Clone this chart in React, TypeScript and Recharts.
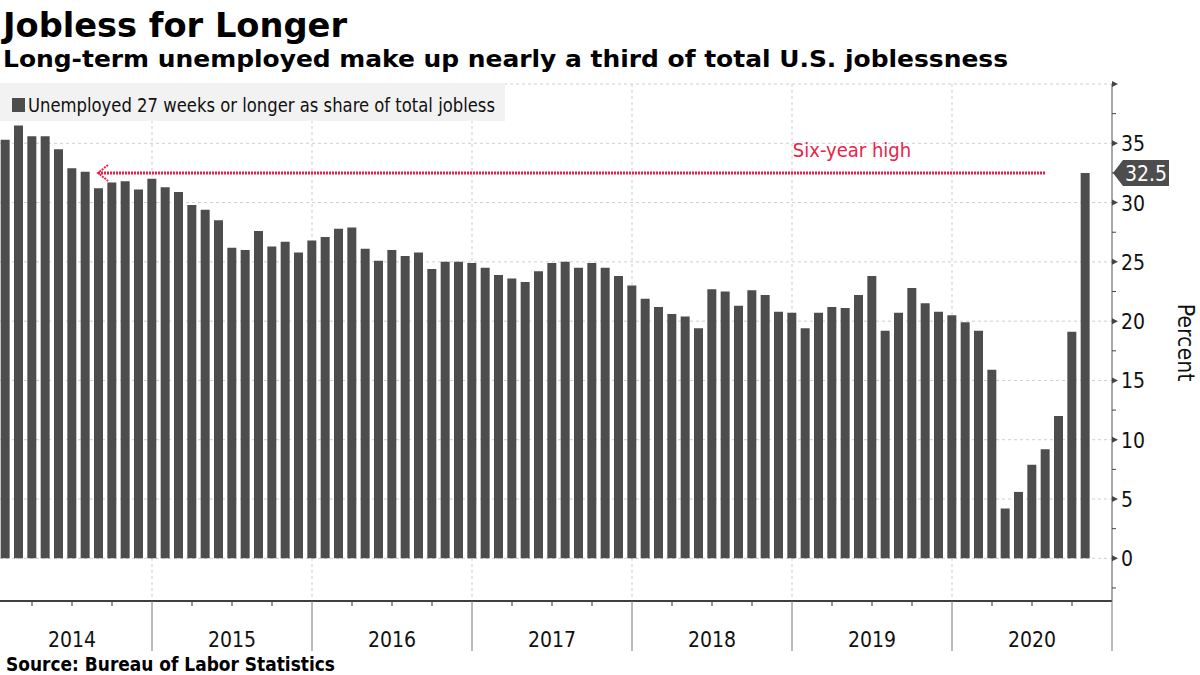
import {
  BarChart,
  Bar,
  XAxis,
  YAxis,
  CartesianGrid,
  ReferenceLine,
  ReferenceDot,
  Legend,
} from 'recharts';

// Share of unemployed out of work 27 weeks or longer, monthly, Jan 2014 - Oct 2020 (%)
const years = ['2014', '2015', '2016', '2017', '2018', '2019', '2020'];
const longTermShare = [
  35.3, 36.5, 35.6, 35.6, 34.5, 32.9, 32.6, 31.2, 31.7, 31.8, 31.1, 32.0,
  31.3, 30.9, 29.8, 29.4, 28.5, 26.2, 26.0, 27.6, 26.3, 26.7, 25.8, 26.8,
  27.1, 27.8, 27.9, 26.1, 25.1, 26.0, 25.5, 25.8, 24.4, 25.0, 25.0, 24.9,
  24.5, 23.9, 23.6, 23.3, 24.2, 24.9, 25.0, 24.5, 24.9, 24.5, 23.8, 23.0,
  21.9, 21.2, 20.6, 20.4, 19.4, 22.7, 22.5, 21.3, 22.6, 22.2, 20.8, 20.7,
  19.4, 20.7, 21.2, 21.1, 22.2, 23.8, 19.2, 20.7, 22.8, 21.5, 20.8, 20.5,
  19.9, 19.2, 15.9, 4.2, 5.6, 7.9, 9.2, 12.0, 19.1, 32.5,
];
// month index 0 = Jan 2014; ticks at quarter ends, long ones at December
const quarterTicks = [
  2, 5, 8, 11, 14, 17, 20, 23, 26, 29, 32, 35, 38, 41, 44, 47, 50, 53, 56, 59,
  62, 65, 68, 71, 74, 77, 80, 83,
];
const yearEnds = [11, 23, 35, 47, 59, 71];
const percentTicks = [
  -2.5, 0, 2.5, 5, 7.5, 10, 12.5, 15, 17.5, 20, 22.5, 25, 27.5, 30, 32.5, 35,
  37.5, 40,
];
const percentGrid = [0, 5, 10, 15, 20, 25, 30, 35, 40];
const highFrom = 6.95;
const highTo = 78;
const highLabelAt = 63.5;

const data = longTermShare.map((v, i) => ({ month: i, share: v }));
const latest = longTermShare[longTermShare.length - 1];

const FONT = "'DejaVu Sans Condensed', 'DejaVu Sans', sans-serif";
const BAR = '#4d4d4d';
const RED = '#e8234a';

function MonthTick({ x, y, payload }: any) {
  const m = payload.value;
  const major = m % 12 === 11;
  return (
    <g>
      <line x1={x} x2={x} y1={y} y2={y + (major ? 50 : 5)} stroke={major ? '#777' : '#333'} />
      {m % 12 === 5 && (
        <text x={x} y={y + 46} textAnchor="middle" fontSize={21} fill="#111" fontFamily={FONT} fontStretch="condensed">
          {years[Math.floor(m / 12)]}
        </text>
      )}
    </g>
  );
}

function PercentTick({ x, y, payload }: any) {
  const v = payload.value;
  const major = v % 5 === 0;
  return (
    <g>
      {major ? (
        <path d={`M${x},${y - 3}L${x + 6},${y}L${x},${y + 3}Z`} fill="#444" />
      ) : (
        <line x1={x} x2={x + 4} y1={y} y2={y} stroke="#444" />
      )}
      {major && v >= 0 && v <= 35 && (
        <text x={x + 9} y={y + 8} fontSize={21} fill="#111" fontFamily={FONT} fontStretch="condensed">
          {v}
        </text>
      )}
    </g>
  );
}

function PercentLabel({ viewBox }: any) {
  const cx = viewBox.x + 66;
  const cy = viewBox.y + viewBox.height / 2;
  return (
    <text
      x={cx}
      y={cy}
      transform={`rotate(90 ${cx} ${cy})`}
      textAnchor="middle"
      fontSize={23}
      fill="#111"
      fontFamily={FONT}
      fontStretch="condensed"
    >
      Percent
    </text>
  );
}

function SeriesLegend({ payload }: any) {
  const item = payload && payload[0];
  return (
    <svg width={530} height={44} style={{ display: 'block', overflow: 'visible' }}>
      <rect width={505} height={38} fill="#f2f2f2" />
      <rect x={12} y={15} width={13} height={14} fill={BAR} />
      <text x={28} y={29} fontSize={20} fill="#111" fontFamily={FONT} fontStretch="condensed" textLength={467} lengthAdjust="spacingAndGlyphs">
        {item ? item.value : ''}
      </text>
    </svg>
  );
}

function HighArrow(props: any) {
  const { x1, x2, y1 } = props;
  const left = Math.min(x1, x2);
  const right = Math.max(x1, x2);
  return (
    <g stroke={RED} fill="none" strokeDasharray="2 1">
      <line x1={left} x2={right} y1={y1} y2={y1} strokeWidth={3} />
      <polyline points={`${left + 10},${y1 - 8} ${left},${y1} ${left + 10},${y1 + 8}`} strokeWidth={2} />
    </g>
  );
}

function HighText({ cx, cy }: any) {
  return (
    <text x={cx} y={cy - 16} textAnchor="middle" fontSize={20} fill={RED} fontFamily={FONT} fontStretch="condensed">
      Six-year high
    </text>
  );
}

function ValueTag({ cx, cy }: any) {
  return (
    <g>
      <path
        d={`M${cx + 1},${cy}L${cx + 11},${cy - 13}L${cx + 57},${cy - 13}L${cx + 57},${cy + 13}L${cx + 11},${cy + 13}Z`}
        fill={BAR}
      />
      <text x={cx + 34} y={cy + 8} textAnchor="middle" fontSize={21} fill="#fff" fontFamily={FONT} fontStretch="condensed">
        {latest}
      </text>
    </g>
  );
}

export default function App() {
  return (
    <div style={{ position: 'fixed', left: 0, top: 0, width: 1200, height: 675, background: '#fff', overflow: 'hidden' }}>
      <BarChart
        width={1200}
        height={675}
        data={data}
        margin={{ top: 84, right: 0, left: 0, bottom: 0 }}
      >
        <CartesianGrid
          stroke="#cfcfcf"
          strokeDasharray="3 3"
          horizontalValues={percentGrid}
          verticalValues={yearEnds}
        />
        <XAxis
          dataKey="month"
          type="number"
          domain={[-0.4, 83]}
          allowDataOverflow
          ticks={quarterTicks}
          interval={0}
          height={74}
          tickSize={0}
          tickMargin={0}
          tick={<MonthTick />}
          axisLine={{ stroke: '#000', strokeWidth: 1.5 }}
          tickLine={false}
        />
        <YAxis
          orientation="right"
          type="number"
          domain={[-3.6, 40]}
          allowDataOverflow
          ticks={percentTicks}
          interval={0}
          width={88}
          tickSize={0}
          tickMargin={0}
          tick={<PercentTick />}
          tickLine={false}
          axisLine={{ stroke: '#555' }}
          label={(p: any) => <PercentLabel {...p} />}
        />
        <Legend
          layout="horizontal"
          verticalAlign="middle"
          align="center"
          wrapperStyle={{ position: 'absolute', top: 83, left: 0, width: 530, height: 44 }}
          content={<SeriesLegend />}
        />
        <Bar
          dataKey="share"
          name="Unemployed 27 weeks or longer as share of total jobless"
          fill={BAR}
          barSize={9}
          isAnimationActive={false}
        />
        <ReferenceLine
          segment={[
            { x: highFrom, y: latest },
            { x: highTo, y: latest },
          ]}
          shape={<HighArrow />}
          ifOverflow="visible"
        />
        <ReferenceDot x={highLabelAt} y={latest} r={0} shape={<HighText />} ifOverflow="visible" />
        <ReferenceDot x={83} y={latest} r={0} shape={<ValueTag />} ifOverflow="visible" />
      </BarChart>
      <svg width={1200} height={80} style={{ position: 'absolute', left: 0, top: 0 }}>
        <text x={3} y={37} fontSize={34} fontWeight="bold" fill="#000" fontFamily={FONT} fontStretch="condensed" textLength={344} lengthAdjust="spacingAndGlyphs">
          Jobless for Longer
        </text>
        <text x={3} y={67} fontSize={23} fontWeight="bold" fill="#000" fontFamily={FONT} fontStretch="condensed" textLength={1005} lengthAdjust="spacingAndGlyphs">
          Long-term unemployed make up nearly a third of total U.S. joblessness
        </text>
      </svg>
      <svg width={400} height={25} style={{ position: 'absolute', left: 0, top: 650 }}>
        <text x={6} y={21} fontSize={19} fontWeight="bold" fill="#000" fontFamily={FONT} fontStretch="condensed" textLength={329} lengthAdjust="spacingAndGlyphs">
          Source: Bureau of Labor Statistics
        </text>
      </svg>
    </div>
  );
}
